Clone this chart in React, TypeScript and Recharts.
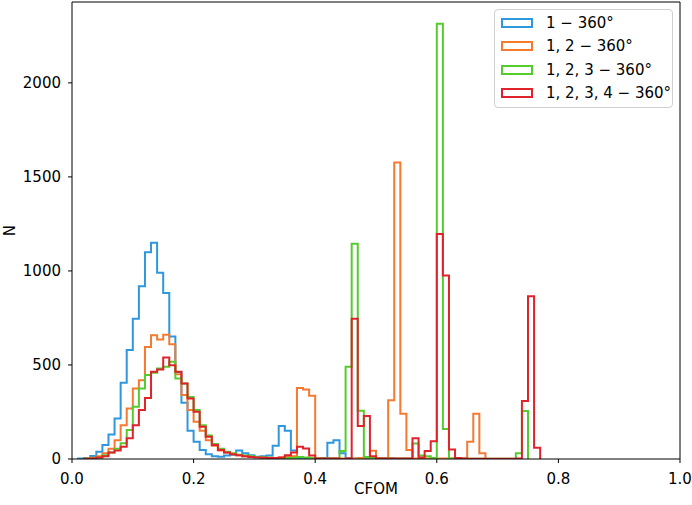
import { ComposedChart, Line, XAxis, YAxis, ReferenceLine } from 'recharts';

// histogram counts per 0.01-wide CFOM bin, starting at 0.00
const counts1 = [
  0, 2, 5, 16, 39, 74, 130, 215, 405, 580,
  746, 918, 1100, 1150, 990, 883, 652, 463, 299, 150,
  92, 48, 25, 15, 12, 18, 22, 45, 30, 20,
  12, 15, 18, 70, 175, 150, 45, 5, 3, 2,
  2, 5, 87, 100, 30, 5, 2, 2, 1, 1,
  1, 3, 2,
];
const counts12 = [
  0, 0, 3, 6, 15, 30, 55, 100, 180, 268,
  375, 419, 596, 658, 635, 661, 610, 450, 340, 260,
  198, 150, 100, 70, 45, 35, 25, 20, 15, 12,
  10, 8, 6, 5, 8, 10, 15, 378, 370, 336,
  2, 2, 2, 2, 2, 3, 3, 5, 8, 44,
  5, 3, 313, 1577, 240, 48, 3, 2, 2, 2,
  2, 2, 2, 2, 3, 92, 240, 30,
];
const counts123 = [
  0, 0, 2, 3, 8, 20, 35, 55, 84, 154,
  278, 375, 446, 458, 481, 490, 517, 428, 401, 330,
  260, 180, 125, 80, 55, 38, 30, 22, 18, 14,
  10, 8, 6, 5, 5, 5, 5, 10, 8, 5,
  2, 2, 2, 2, 42, 490, 1144, 256, 10, 5,
  2, 2, 2, 2, 2, 2, 83, 19, 15, 5,
  2315, 160, 3, 1, 1, 1, 1, 1, 1, 1,
  1, 1, 1, 30, 255,
];
const counts1234 = [
  0, 0, 1, 3, 8, 15, 35, 45, 65, 110,
  180, 260, 325, 464, 476, 540, 499, 464, 401, 322,
  251, 172, 118, 74, 48, 35, 25, 20, 14, 10,
  8, 6, 5, 5, 8, 20, 34, 65, 56, 19,
  3, 2, 2, 2, 0, 3, 746, 175, 228, 15,
  2, 2, 2, 2, 2, 2, 110, 8, 43, 95,
  1197, 976, 50, 5, 2, 1, 1, 1, 1, 1,
  1, 1, 1, 3, 309, 865, 60,
];

const binWidth = 0.01;
const seriesNames = ['1 − 360°', '1, 2 − 360°', '1, 2, 3 − 360°', '1, 2, 3, 4 − 360°'];
const seriesCounts = [counts1, counts12, counts123, counts1234];
const xTicks = [0, 0.2, 0.4, 0.6, 0.8, 1.0];
const yTicks = [0, 500, 1000, 1500, 2000];
const yMax = 2430;

const colors = ['#2f97dc', '#f57a30', '#55cc2e', '#e0232b'];
const font = '"DejaVu Sans", sans-serif';

// outline of a step histogram: up from zero at the first edge, down to zero at the last
function stepPoints(counts: number[]) {
  const first = counts.findIndex((c) => c > 0);
  let last = counts.length - 1;
  while (last > 0 && counts[last] === 0) last--;
  const pts: { x: number; n: number }[] = [{ x: first * binWidth, n: 0 }];
  for (let i = first; i <= last; i++) pts.push({ x: i * binWidth, n: counts[i] });
  pts.push({ x: (last + 1) * binWidth, n: 0 });
  return pts;
}

function HistLegend() {
  return (
    <div
      style={{
        position: 'absolute', left: 494, top: 9, width: 177, height: 97,
        border: '1px solid #d0d0d0', borderRadius: 4, background: 'rgba(255,255,255,0.8)',
        fontFamily: font, fontSize: 15, color: '#000',
      }}
    >
      {seriesNames.map((name, i) => (
        <div key={name} style={{ position: 'absolute', left: 6, top: 3 + i * 23.3, height: 20, display: 'flex', alignItems: 'center' }}>
          <span style={{ display: 'inline-block', width: 28, height: 6, border: `2px solid ${colors[i]}`, marginRight: 13 }} />
          <span style={{ whiteSpace: 'nowrap' }}>{name}</span>
        </div>
      ))}
    </div>
  );
}

export default function App() {
  return (
    <div style={{ position: 'absolute', left: 0, top: 0, width: 692, height: 505, background: '#fff' }}>
      <ComposedChart width={692} height={505} margin={{ top: 2, right: 12, bottom: 0, left: 0 }}>
        <XAxis
          dataKey="x"
          type="number"
          domain={[0, 1]}
          ticks={xTicks}
          tickFormatter={(v) => v.toFixed(1)}
          height={46}
          tickSize={4}
          tickMargin={10}
          stroke="#000"
          tick={{ fill: '#000', fontSize: 15, fontFamily: font }}
          allowDataOverflow
          label={{ value: 'CFOM', position: 'insideBottom', offset: 11, fill: '#000', fontSize: 15, fontFamily: font }}
        />
        <YAxis
          type="number"
          domain={[0, yMax]}
          ticks={yTicks}
          width={72}
          tickSize={4}
          tickMargin={7}
          stroke="#000"
          tick={{ fill: '#000', fontSize: 15, fontFamily: font }}
          allowDataOverflow
          label={{ value: 'N', angle: -90, position: 'insideLeft', offset: 10, fill: '#000', fontSize: 15, fontFamily: font, style: { textAnchor: 'middle' } }}
        />
        {seriesCounts.map((counts, i) => (
          <Line
            key={seriesNames[i]}
            data={stepPoints(counts)}
            dataKey="n"
            name={seriesNames[i]}
            type="stepAfter"
            stroke={colors[i]}
            strokeWidth={2}
            dot={false}
            activeDot={false}
            isAnimationActive={false}
          />
        ))}
        {/* top and right spines of the frame */}
        <ReferenceLine y={yMax} stroke="#000" strokeWidth={1} ifOverflow="visible" />
        <ReferenceLine x={1} stroke="#000" strokeWidth={1} ifOverflow="visible" />
      </ComposedChart>
      <HistLegend />
    </div>
  );
}
